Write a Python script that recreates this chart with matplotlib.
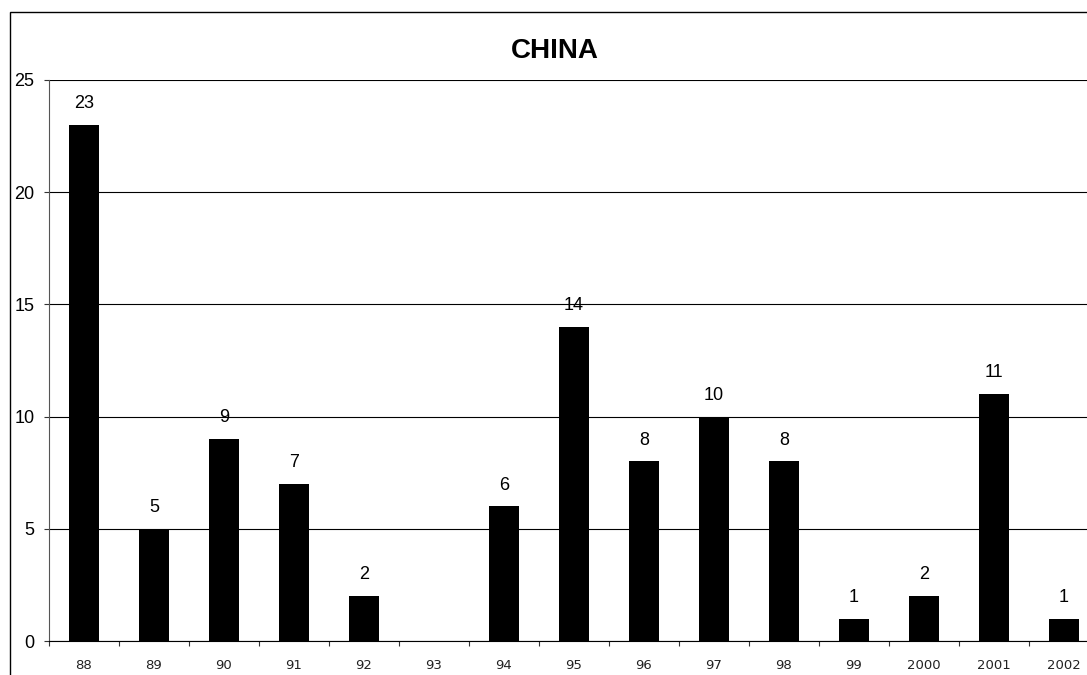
import matplotlib.pyplot as plt
from matplotlib.patches import Rectangle

years = ['88', '89', '90', '91', '92', '93', '94', '95', '96', '97', '98', '99', '2000', '2001', '2002']
counts = [23, 5, 9, 7, 2, 0, 6, 14, 8, 10, 8, 1, 2, 11, 1]

W, H = 1087, 675
fig = plt.figure(figsize=(W / 100, H / 100), dpi=100)

# outer chart border (clipped at right/bottom like the original)
fig.patches.append(Rectangle((10 / W, -0.1), 1.2, 1 - 12 / H + 0.1, transform=fig.transFigure,
                             fill=False, edgecolor='black', linewidth=1.0))

ax = fig.add_axes([49 / W, 1 - 641 / H, (1099 - 49) / W, (641 - 80) / H])
x = list(range(len(years)))
ax.bar(x, counts, width=0.43, color='black', zorder=3)
for xi, v in zip(x, counts):
    if v > 0:
        ax.text(xi, v + 0.75, str(v), ha='center', va='baseline',
                fontsize=13, family='Liberation Sans')

ax.set_xlim(-0.5, len(years) - 0.5)
ax.set_ylim(0, 25)
ax.set_yticks([0, 5, 10, 15, 20, 25])
ax.set_xticks([i - 0.5 for i in range(len(years))], minor=False)
ax.set_xticklabels([])
ax.set_xticks(x, minor=True)
ax.set_xticklabels(years, minor=True, fontsize=9.5, family='DejaVu Sans', color='#222222')
ax.tick_params(axis='x', which='minor', length=0, pad=13)
ax.tick_params(axis='x', which='major', direction='out', length=3.6, color='#333333')
ax.tick_params(axis='y', direction='out', length=3.6, pad=7, labelsize=13, color='#333333')
for lab in ax.get_yticklabels():
    lab.set_family('Liberation Sans')
ax.yaxis.grid(True, color='black', linewidth=0.8, zorder=0)
ax.spines['top'].set_visible(False)
ax.spines['right'].set_visible(False)
ax.spines['left'].set_color('#555555')
ax.spines['bottom'].set_color('black')

fig.text(555 / W, 1 - 51 / H, 'CHINA', ha='center', va='center', fontsize=20,
         fontweight='bold', family='Liberation Sans')

fig.savefig('out.png', dpi=100)
